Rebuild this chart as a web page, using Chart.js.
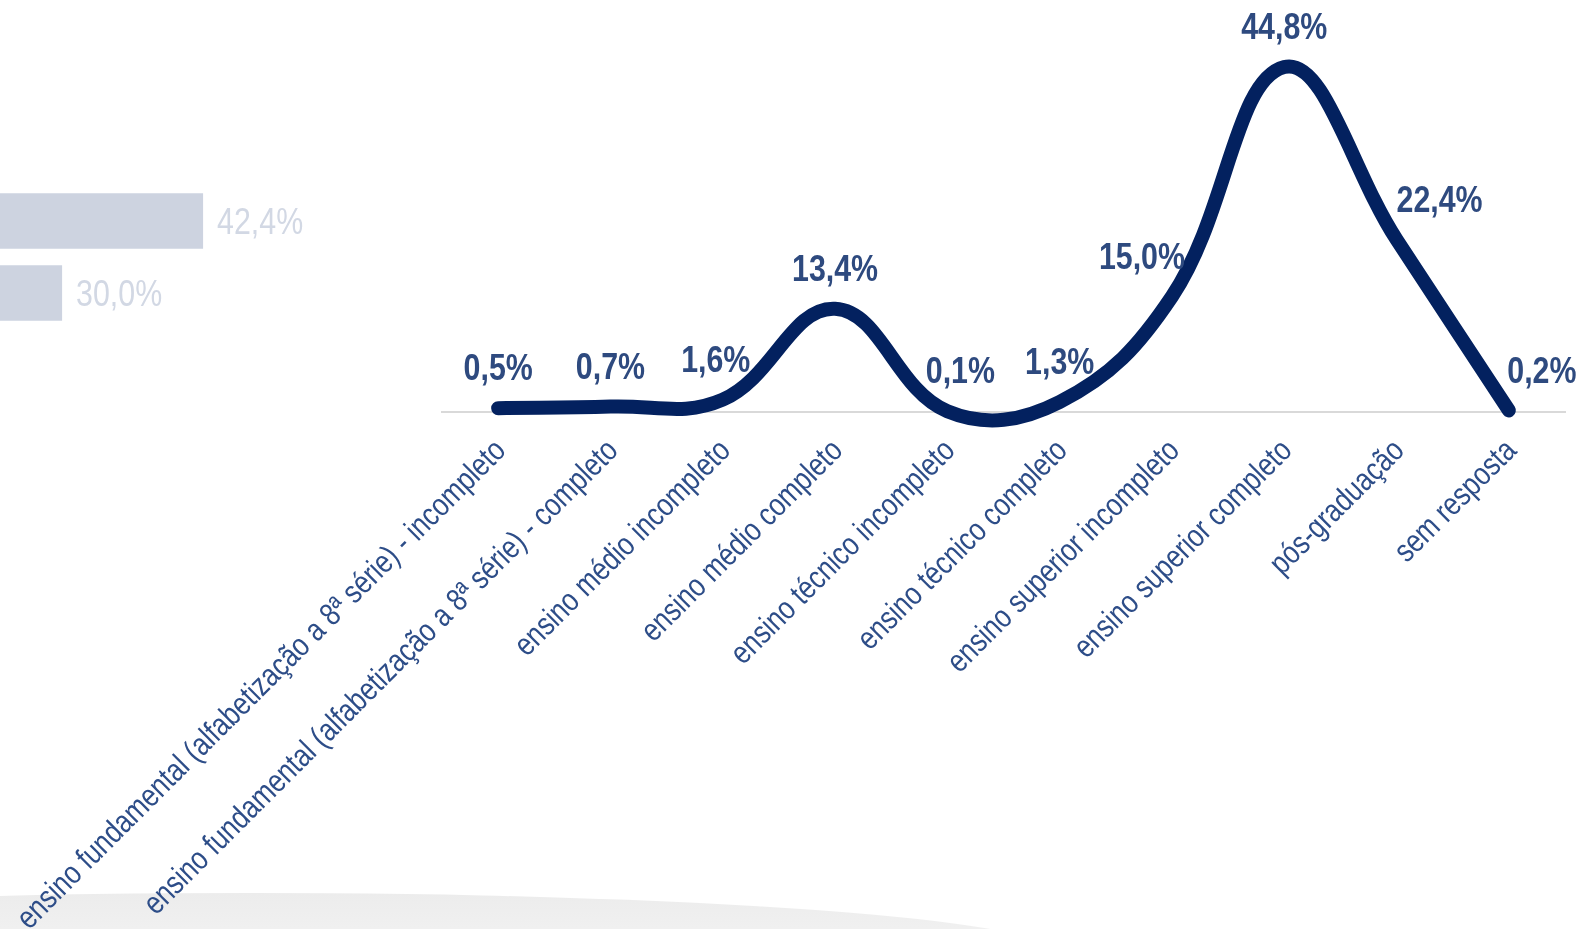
<!DOCTYPE html>
<html>
<head>
<meta charset="utf-8">
<script src="https://cdn.jsdelivr.net/npm/chart.js@4.4.1/dist/chart.umd.min.js"></script>
<style>
    html, body { margin: 0; padding: 0; background: #ffffff; overflow: hidden; }
    body { width: 1583px; height: 929px; position: relative; }
    #swoosh {
        position: absolute; left: -550px; top: 893px; width: 1600px; height: 116px;
        border-radius: 50%;
        background: linear-gradient(180deg, #ececec 0%, #f0f0f0 30%, #f4f4f4 100%);
    }
    #ghostWrap { position: absolute; left: -300px; top: 185px; width: 700px; height: 144px; }
    #mainWrap { position: absolute; left: 0; top: 0; width: 1583px; height: 929px; }
</style>
</head>
<body>
<div id="swoosh"></div>
<div id="ghostWrap"><canvas id="ghostChart"></canvas></div>
<div id="mainWrap"><canvas id="eduChart"></canvas></div>
<script>
// Data
const categories = [
    'ensino fundamental (alfabetização a 8ª série) - incompleto',
    'ensino fundamental (alfabetização a 8ª série) - completo',
    'ensino médio incompleto',
    'ensino médio completo',
    'ensino técnico incompleto',
    'ensino técnico completo',
    'ensino superior incompleto',
    'ensino superior completo',
    'pós-graduação',
    'sem resposta'
];
const shares = [0.5, 0.7, 1.6, 13.4, 0.1, 1.3, 15.0, 44.8, 22.4, 0.2];

// faded bars from the slide behind
const ghostLabels = ['a', 'b'];
const ghostValues = [42.4, 30.0];

// no Arial Narrow here, so squeeze Liberation Sans instead
const FONT = "'Liberation Sans', Arial, sans-serif";
const SQUEEZE = 0.82;

function fmt(v) {
    return v.toFixed(1).replace('.', ',') + '%';
}

function narrowText(ctx, text, x, y, angle) {
    ctx.save();
    ctx.translate(x, y);
    if (angle) ctx.rotate(angle);
    ctx.scale(SQUEEZE, 1);
    ctx.fillText(text, 0, 0);
    ctx.restore();
}

// label nudges so they sit like the original
const labelShift = [0, 0, -7, 0, 13, 0, -30, 0, 43, 33];

const pointLabels = {
    id: 'pointLabels',
    afterDatasetsDraw(chart) {
        const ctx = chart.ctx;
        const meta = chart.getDatasetMeta(0);
        ctx.save();
        ctx.font = 'bold 37px ' + FONT;
        ctx.fillStyle = '#2e4a7f';
        ctx.textAlign = 'center';
        ctx.textBaseline = 'middle';
        meta.data.forEach((pt, i) => {
            narrowText(ctx, fmt(shares[i]), pt.x + labelShift[i], pt.y - 38);
        });
        ctx.restore();
    }
};

// category labels, rotated 45deg and squeezed
const slantLabels = {
    id: 'slantLabels',
    afterDraw(chart) {
        const ctx = chart.ctx;
        const xs = chart.scales.x;
        ctx.save();
        ctx.font = '32px ' + FONT;
        ctx.fillStyle = '#2d4d88';
        ctx.textAlign = 'right';
        ctx.textBaseline = 'middle';
        categories.forEach((c, i) => {
            narrowText(ctx, c, xs.getPixelForTick(i) + 3, xs.top + 34, -Math.PI / 4);
        });
        ctx.restore();
    }
};

const ghostText = {
    id: 'ghostText',
    afterDatasetsDraw(chart) {
        const ctx = chart.ctx;
        const meta = chart.getDatasetMeta(0);
        ctx.save();
        ctx.font = '37px ' + FONT;
        ctx.fillStyle = '#d2d8e4';
        ctx.textAlign = 'left';
        ctx.textBaseline = 'middle';
        meta.data.forEach((bar, i) => {
            narrowText(ctx, fmt(ghostValues[i]), bar.x + 14, bar.y + 3);
        });
        ctx.restore();
    }
};

new Chart(document.getElementById('ghostChart').getContext('2d'), {
    type: 'bar',
    data: {
        labels: ghostLabels,
        datasets: [{
            data: ghostValues,
            backgroundColor: '#cdd3e0',
            borderWidth: 0,
            categoryPercentage: 1,
            barPercentage: 0.77
        }]
    },
    options: {
        indexAxis: 'y',
        responsive: true,
        maintainAspectRatio: false,
        animation: false,
        layout: { padding: { left: 21, right: 110.5, top: 0, bottom: 0 } },
        plugins: { legend: { display: false }, tooltip: { enabled: false } },
        scales: {
            x: { display: false, min: 0, max: 50 },
            y: { display: false }
        }
    },
    plugins: [ghostText]
});

new Chart(document.getElementById('eduChart').getContext('2d'), {
    type: 'line',
    data: {
        labels: categories,
        datasets: [{
            data: shares,
            borderColor: '#03215f',
            borderWidth: 14,
            borderCapStyle: 'round',
            borderJoinStyle: 'round',
            pointRadius: 0,
            tension: 0.4,
            fill: false,
            clip: false
        }]
    },
    options: {
        responsive: true,
        maintainAspectRatio: false,
        animation: false,
        elements: { line: { capBezierPoints: false } },
        layout: { padding: { left: 442, right: 18, top: 27, bottom: 0 } },
        plugins: { legend: { display: false }, tooltip: { enabled: false } },
        scales: {
            x: {
                offset: true,
                grid: { display: false },
                border: { display: true, color: '#d9d9d9', width: 2 },
                ticks: { display: false },
                afterFit: function (scale) {
                    scale.height = 929 - 412;
                    scale.paddingLeft = 0;
                    scale.paddingRight = 0;
                }
            },
            y: {
                display: false,
                min: 0,
                max: 50
            }
        }
    },
    plugins: [pointLabels, slantLabels]
});
</script>
</body>
</html>
